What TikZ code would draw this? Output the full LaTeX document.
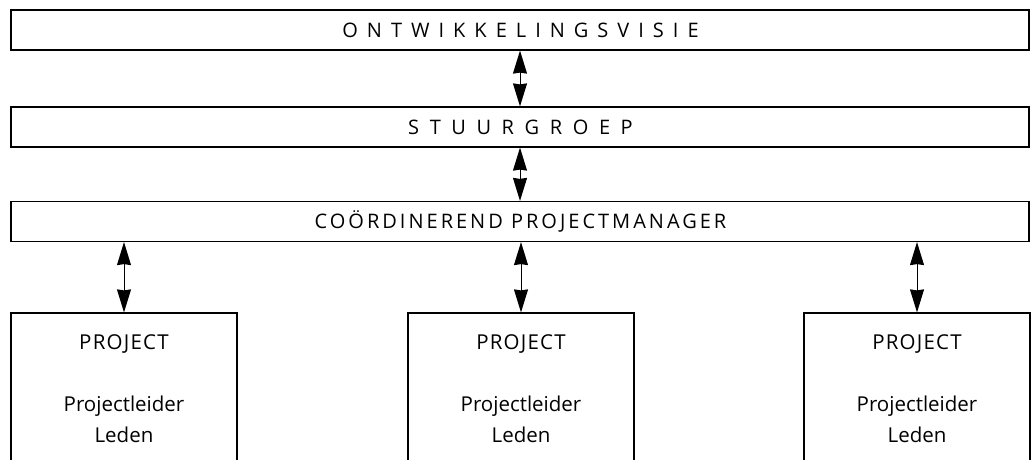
\documentclass[tikz,border=0pt]{standalone}
\usepackage{fontspec}
\setmainfont{Open Sans}
\newfontfamily\trackA[LetterSpace=45]{Open Sans}
\newfontfamily\trackB[LetterSpace=53]{Open Sans}
\newfontfamily\trackC[LetterSpace=15]{Open Sans}
\newfontfamily\trackD[LetterSpace=6]{Open Sans}
\usetikzlibrary{arrows.meta}
\tikzset{
  band/.style={draw=black, line width=1.2pt, minimum width=1018pt, minimum height=40pt, inner sep=0pt},
  projbox/.style={draw=black, line width=1.2pt, minimum width=226pt, minimum height=157pt, inner sep=0pt},
  projtext/.style={align=center, font=\fontsize{20.5}{31}\selectfont, inner sep=0pt, anchor=north},
  link/.style={line width=1pt, {Stealth[length=23pt,width=14pt,inset=1pt]}-{Stealth[length=23pt,width=14pt,inset=1pt]}}
}
\begin{document}
\begin{tikzpicture}[x=1pt,y=-1pt]
\useasboundingbox (0,0) rectangle (1031,459);
\clip (0,0) rectangle (1031,459);
\node[band, font=\trackA\fontsize{20}{22}\selectfont] (visie) at (520,30) {ONTWIKKELINGSVISIE\kern-1pt};
\node[band, font=\trackB\fontsize{20}{22}\selectfont] (stuur) at (520,127) {STUURGROEP\kern-1pt};
\node[band, font=\trackC\fontsize{20}{22}\selectfont] (coord) at (520,221.5) {COÖRDINEREND PROJECTMANAGER\kern-1pt};
\node[projbox] (p1) at (124,391.5) {};
\node[projbox] (p2) at (521,391.5) {};
\node[projbox] (p3) at (917,391.5) {};
\foreach \p in {p1,p2,p3}{
  \node[projtext] (\p t) at ([yshift=-22pt]\p.north) {{\trackD PROJECT}\\[31pt]Projectleider\\Leden};
}
\draw[link] (visie.south) -- (stuur.north);
\draw[link] (stuur.south) -- (coord.north);
\draw[link] (coord.south -| p1.north) -- (p1.north);
\draw[link] (coord.south -| p2.north) -- (p2.north);
\draw[link] (coord.south -| p3.north) -- (p3.north);
\end{tikzpicture}
\end{document}
